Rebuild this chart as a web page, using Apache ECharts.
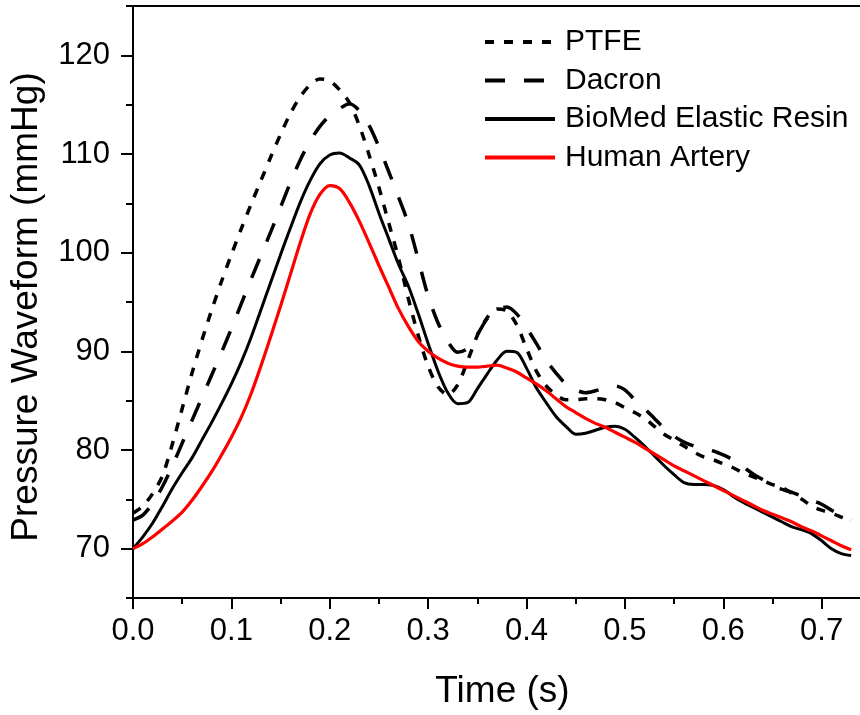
<!DOCTYPE html>
<html>
<head>
<meta charset="utf-8">
<script src="https://cdn.jsdelivr.net/npm/echarts@6/dist/echarts.min.js"></script>
<style>
  html, body { margin: 0; padding: 0; background: #fff; }
  #chart { width: 860px; height: 715px; }
</style>
</head>
<body>
<div id="chart"></div>
<script>
// Time samples (s)
var time = [0.00,0.01,0.02,0.03,0.04,0.05,0.06,0.07,0.08,0.09,
            0.10,0.11,0.12,0.13,0.14,0.15,0.16,0.17,0.18,0.19,
            0.20,0.21,0.22,0.23,0.24,0.25,0.26,0.27,0.28,0.29,
            0.30,0.31,0.32,0.33,0.34,0.35,0.36,0.37,0.38,0.39,
            0.40,0.41,0.42,0.43,0.44,0.45,0.46,0.47,0.48,0.49,
            0.50,0.51,0.52,0.53,0.54,0.55,0.56,0.57,0.58,0.59,
            0.60,0.61,0.62,0.63,0.64,0.65,0.66,0.67,0.68,0.69,
            0.70,0.71,0.72,0.73];

var ptfe = [73.6,74.3,75.6,77.4,80.6,84.2,87.8,91.1,94.2,97.1,
            99.8,102.4,104.9,107.3,109.7,112.0,114.1,115.8,117.0,117.6,
            117.4,116.5,115.2,112.9,109.9,106.6,103.0,99.4,95.3,91.6,
            88.5,86.4,85.6,86.6,89.0,91.6,93.4,94.3,94.1,92.7,
            90.3,88.0,86.5,85.6,85.1,85.1,85.2,85.2,85.1,84.8,
            84.3,83.8,83.2,82.4,81.6,81.0,80.4,79.8,79.3,79.0,
            78.6,78.2,77.7,77.3,76.9,76.5,76.2,75.6,75.0,74.3,
            73.9,73.6,73.2,72.8];

var dacron = [72.9,73.4,74.6,76.3,78.4,80.7,83.0,85.3,87.6,89.9,
              92.3,94.8,97.3,99.7,102.1,104.6,107.1,109.4,111.3,112.8,
              113.9,114.6,115.1,114.4,112.9,110.7,108.2,105.6,102.9,99.3,
              95.6,92.9,91.0,89.9,90.3,91.7,93.3,94.2,94.5,93.8,
              92.4,90.8,89.1,87.8,86.7,86.1,85.8,86.0,86.3,86.5,
              86.1,85.1,84.2,83.2,82.2,81.4,80.8,80.4,80.1,79.9,
              79.5,79.0,78.3,77.6,77.0,76.4,76.0,75.7,75.3,74.9,
              74.5,73.9,73.4,72.9];

var biomed = [70.0,71.2,72.6,74.3,76.1,77.7,79.2,81.0,82.8,84.7,
              86.7,88.9,91.4,94.2,97.0,99.8,102.5,105.1,107.3,109.0,
              109.9,110.1,109.6,108.9,106.8,104.0,101.4,98.8,96.6,93.8,
              90.8,88.0,85.8,84.7,84.8,86.2,87.7,89.1,90.0,89.9,
              88.3,86.3,84.8,83.4,82.4,81.6,81.7,82.0,82.3,82.4,
              82.1,81.3,80.4,79.4,78.4,77.5,76.7,76.5,76.5,76.4,
              76.0,75.3,74.7,74.2,73.7,73.2,72.7,72.2,71.9,71.5,
              70.8,70.0,69.5,69.3];

var human = [70.0,70.5,71.2,72.0,72.8,73.7,74.9,76.3,77.8,79.5,
             81.3,83.3,85.7,88.5,91.5,94.6,97.8,101.0,103.9,105.9,
             106.8,106.5,105.1,103.2,101.0,98.7,96.5,94.3,92.5,91.0,
             90.0,89.3,88.8,88.5,88.4,88.4,88.5,88.6,88.3,87.9,
             87.3,86.7,86.0,85.2,84.4,83.8,83.2,82.7,82.3,81.8,
             81.3,80.8,80.2,79.6,79.0,78.4,77.9,77.4,76.9,76.4,
             75.9,75.4,74.9,74.4,73.9,73.5,73.1,72.7,72.2,71.8,
             71.3,70.8,70.3,69.9];

var seriesNames = ['PTFE', 'Dacron', 'BioMed Elastic Resin', 'Human Artery'];

// Tick positions / labels
var xMajor = [0.0, 0.1, 0.2, 0.3, 0.4, 0.5, 0.6, 0.7];
var xMinor = [0.05, 0.15, 0.25, 0.35, 0.45, 0.55, 0.65];
var yMajor = [70, 80, 90, 100, 110, 120];
var yMinor = [65, 75, 85, 95, 105, 115, 125];

function pairs(ys) {
  return time.map(function (t, i) { return [t, ys[i]]; });
}

var FONT = "'Liberation Sans', Arial, sans-serif";
var X_MIN = 0, X_MAX = 0.739, Y_MIN = 65, Y_MAX = 125;

var chart = echarts.init(document.getElementById('chart'), null, { renderer: 'canvas' });

var option = {
  animation: false,
  backgroundColor: '#ffffff',
  textStyle: { fontFamily: FONT, color: '#000' },
  grid: { left: 133, right: 0, top: 6, bottom: 115, containLabel: false },
  legend: {
    orient: 'vertical',
    left: 478,
    top: 22,
    itemWidth: 70,
    itemHeight: 14,
    itemGap: 8.5,
    data: seriesNames,
    itemStyle: { opacity: 0, borderWidth: 0 },
    lineStyle: { width: 4 },
    textStyle: { fontFamily: FONT, fontSize: 30, color: '#000', lineHeight: 30, padding: [0, 0, 0, 5] }
  },
  xAxis: [
    {
      type: 'value', min: X_MIN, max: X_MAX, interval: 0.1, position: 'bottom',
      axisLine: { show: true, onZero: false, lineStyle: { color: '#000', width: 2 } },
      axisTick: { show: true, inside: false, length: 11, customValues: xMajor, lineStyle: { color: '#000', width: 2 } },
      axisLabel: { show: true, customValues: xMajor, margin: 18, fontSize: 31, fontFamily: FONT, color: '#000',
                   formatter: function (v) { return v.toFixed(1); } },
      splitLine: { show: false },
      name: 'Time (s)', nameLocation: 'middle', nameGap: 75,
      nameTextStyle: { fontSize: 37, fontFamily: FONT, color: '#000', padding: [0, 0, 0, 12] }
    },
    {
      type: 'value', min: X_MIN, max: X_MAX, interval: 0.1, position: 'bottom', offset: 0,
      axisLine: { show: false },
      axisTick: { show: true, inside: false, length: 6, customValues: xMinor, lineStyle: { color: '#000', width: 2 } },
      axisLabel: { show: false },
      splitLine: { show: false }
    },
    {
      type: 'value', min: X_MIN, max: X_MAX, position: 'top', offset: 0,
      axisLine: { show: true, onZero: false, lineStyle: { color: '#000', width: 2 } },
      axisTick: { show: false },
      axisLabel: { show: false },
      splitLine: { show: false }
    }
  ],
  yAxis: [
    {
      type: 'value', min: Y_MIN, max: Y_MAX, interval: 5, position: 'left',
      axisLine: { show: true, onZero: false, lineStyle: { color: '#000', width: 2 } },
      axisTick: { show: true, inside: false, length: 12, customValues: yMajor, lineStyle: { color: '#000', width: 2 } },
      axisLabel: { show: true, customValues: yMajor, margin: 23, fontSize: 31, fontFamily: FONT, color: '#000' },
      splitLine: { show: false },
      name: 'Pressure Waveform (mmHg)', nameLocation: 'middle', nameGap: 88,
      nameTextStyle: { fontSize: 37, fontFamily: FONT, color: '#000', padding: [0, 10, 0, 0] }
    },
    {
      type: 'value', min: Y_MIN, max: Y_MAX, interval: 5, position: 'left', offset: 0,
      axisLine: { show: false },
      axisTick: { show: true, inside: false, length: 7, customValues: yMinor, lineStyle: { color: '#000', width: 2 } },
      axisLabel: { show: false },
      splitLine: { show: false }
    }
  ],
  series: [
    {
      name: seriesNames[0], type: 'line', xAxisIndex: 0, yAxisIndex: 0,
      data: pairs(ptfe), symbol: 'none', smooth: 0.3,
      lineStyle: { color: '#000', width: 3.5, type: [9, 10] },
      itemStyle: { color: '#000' }
    },
    {
      name: seriesNames[1], type: 'line', xAxisIndex: 0, yAxisIndex: 0,
      data: pairs(dacron), symbol: 'none', smooth: 0.3,
      lineStyle: { color: '#000', width: 3.5, type: [20, 19] },
      itemStyle: { color: '#000' }
    },
    {
      name: seriesNames[2], type: 'line', xAxisIndex: 0, yAxisIndex: 0,
      data: pairs(biomed), symbol: 'none', smooth: 0.3,
      lineStyle: { color: '#000', width: 3, type: 'solid' },
      itemStyle: { color: '#000' }
    },
    {
      name: seriesNames[3], type: 'line', xAxisIndex: 0, yAxisIndex: 0,
      data: pairs(human), symbol: 'none', smooth: 0.3,
      lineStyle: { color: '#ff0000', width: 3.2, type: 'solid' },
      itemStyle: { color: '#ff0000' }
    }
  ]
};

chart.setOption(option);
</script>
</body>
</html>
